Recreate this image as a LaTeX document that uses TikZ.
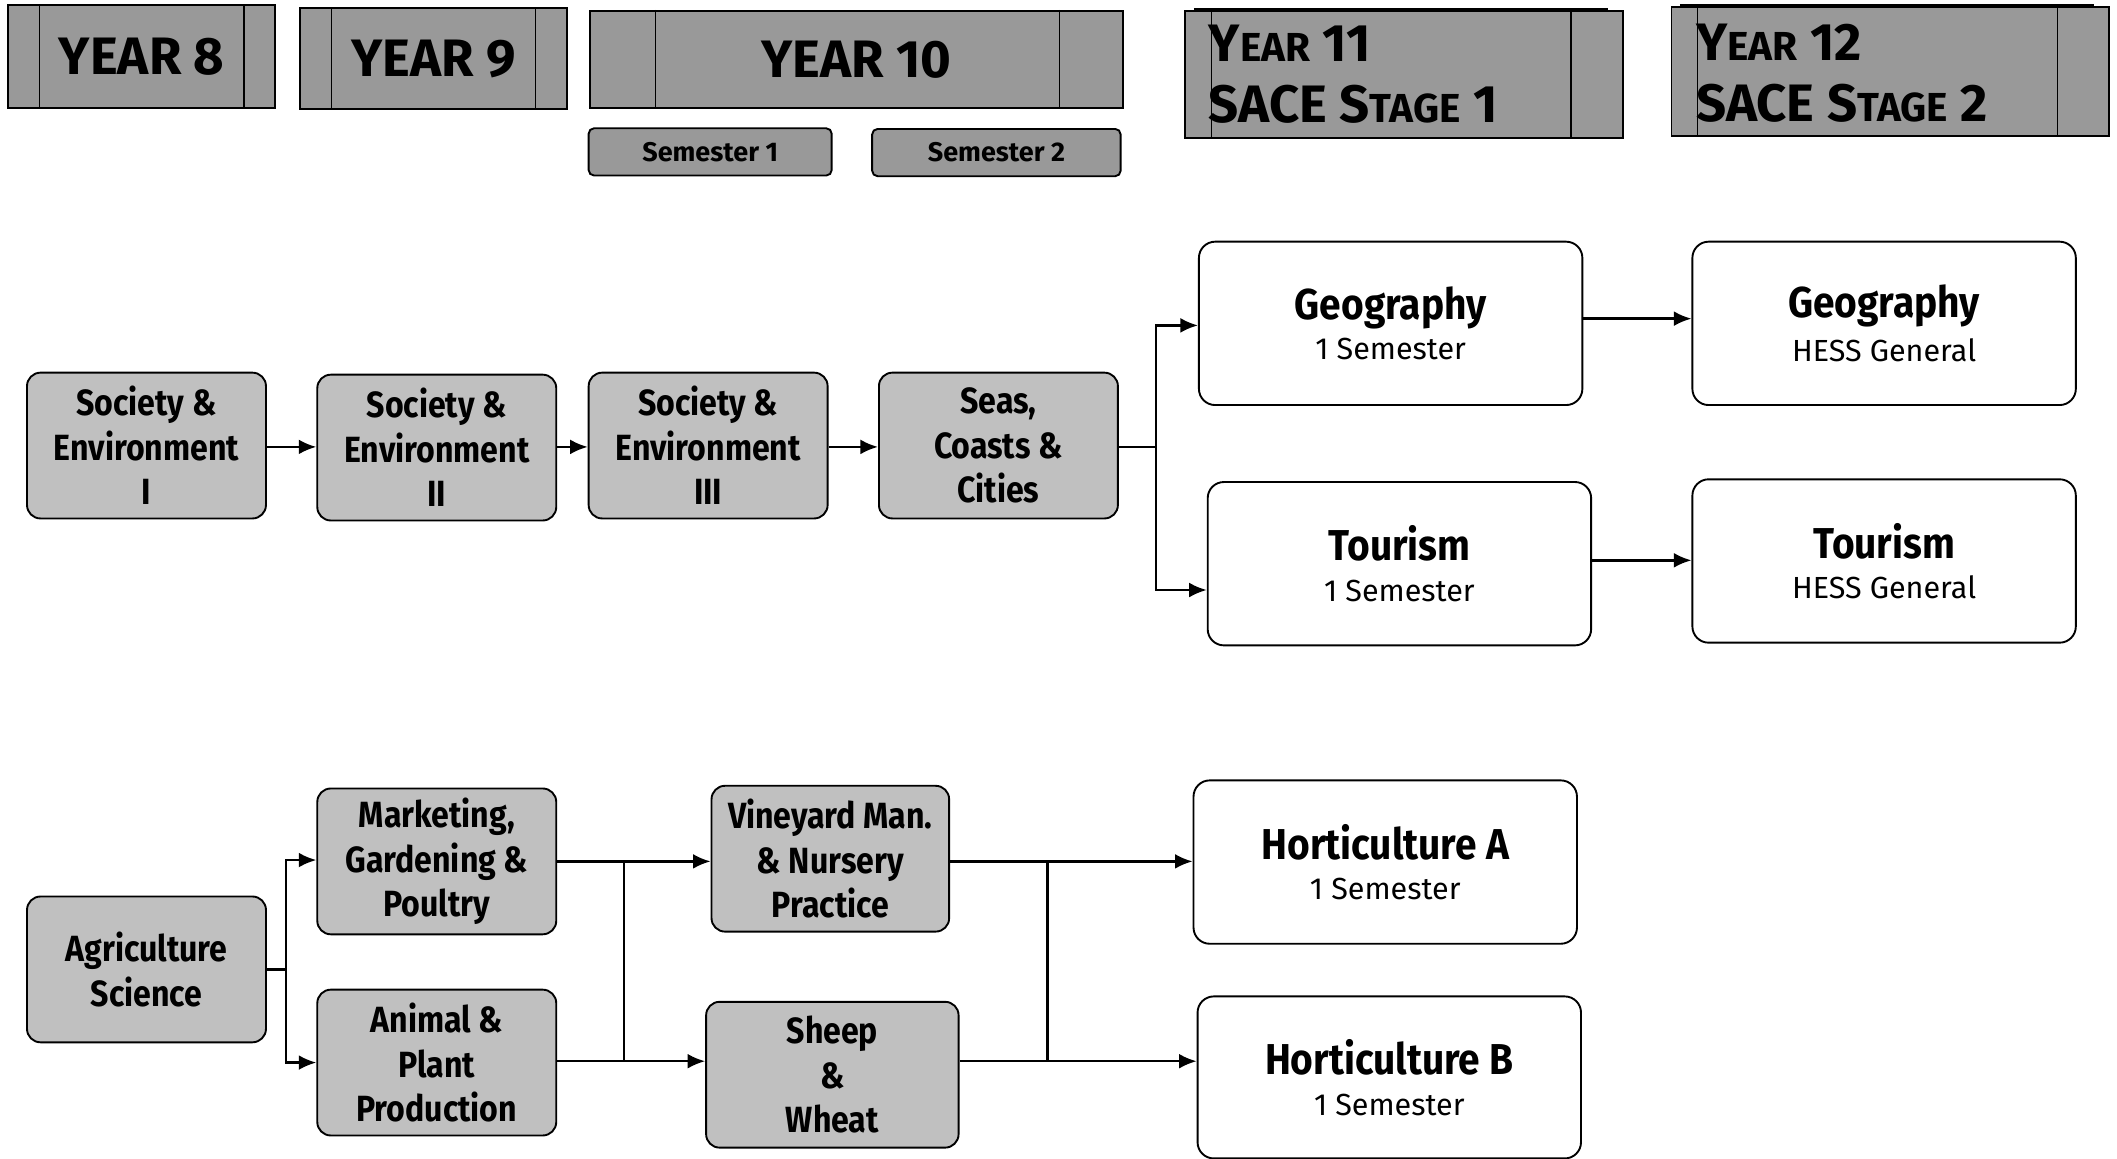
\documentclass[tikz,border=0pt]{standalone}
\usepackage{fontspec}
\setmainfont{Fira Sans}
\newfontfamily\narrowfont{Fira Sans}[FakeStretch=0.88]
\newfontfamily\titlefont{Fira Sans}[FakeStretch=0.9]
\usetikzlibrary{arrows.meta}

\definecolor{hdrgray}{RGB}{153,153,153}
\definecolor{boxgray}{RGB}{192,192,192}

\newcommand{\ttlfont}{\titlefont\bfseries\fontsize{16}{19}\selectfont}
\newcommand{\subfont}{\fontsize{11.3}{14}\selectfont}
\newcommand{\capsmall}{\fontsize{15}{22.5}\selectfont}

\tikzset{
  hdr/.style={draw, fill=hdrgray, line width=0.7pt, inner sep=0pt,
    font=\bfseries\fontsize{19.5}{22}\selectfont},
  hdrtext/.style={anchor=west, align=left, inner sep=0pt,
    font=\bfseries\fontsize{19.5}{22.5}\selectfont},
  semb/.style={draw, fill=hdrgray, rounded corners=2pt, line width=0.7pt,
    minimum height=17.5pt, inner sep=0pt, font=\bfseries\fontsize{10}{12}\selectfont},
  gbox/.style={draw, fill=boxgray, rounded corners=5pt, line width=0.7pt,
    minimum width=88.5pt, minimum height=54pt, align=center, inner sep=0pt,
    font=\narrowfont\bfseries\fontsize{13.5}{16.5}\selectfont},
  wbox/.style={draw, fill=white, rounded corners=6pt, line width=0.7pt,
    minimum width=142pt, minimum height=60.5pt, align=center, inner sep=0pt},
  arr/.style={line width=0.9pt, -{Latex[length=6.5pt,width=5.5pt]}},
  ln/.style={line width=0.9pt},
  divider/.style={line width=0.5pt},
  topbar/.style={line width=1.5pt},
}

\begin{document}
\begin{tikzpicture}[x=0.5pt, y=-0.5pt]
\useasboundingbox (0,0) rectangle (1568,858);

% ---- year headers ----
\node[hdr, minimum width=99pt, minimum height=38pt] (y8) at (105,42) {YEAR 8};
\node[hdr, minimum width=99pt, minimum height=37.5pt] (y9) at (321,43.5) {YEAR 9};
\node[hdr, minimum width=197.5pt, minimum height=36pt] (y10) at (634.5,44) {YEAR 10};
\foreach \b/\l/\r in {y8/12pt/12pt, y9/12pt/12pt, y10/24.5pt/24pt}{
  \draw[divider] ([xshift=\l]\b.north west) -- ([xshift=\l]\b.south west);
  \draw[divider] ([xshift=-\r]\b.north east) -- ([xshift=-\r]\b.south east);
}
\node[semb, minimum width=90pt] (sem1) at (526,112.5) {Semester 1};
\node[semb, minimum width=92pt] (sem2) at (738,113) {Semester 2};

\node[hdr, minimum width=162pt, minimum height=47pt] (y11) at (1040,55) {};
\node[hdr, minimum width=162pt, minimum height=48pt] (y12) at (1400,53) {};
\foreach \b in {y11, y12}{
  \draw[divider] ([xshift=10pt]\b.north west) -- ([xshift=10pt]\b.south west);
  \draw[divider] ([xshift=-19.5pt]\b.north east) -- ([xshift=-19.5pt]\b.south east);
  \draw[topbar] ([xshift=3.5pt]\b.north west) -- ([xshift=-6pt]\b.north east);
}
\node[hdrtext] (y11t) at (895,55)
  {Y{\capsmall EAR} 11\\SACE S{\capsmall TAGE} 1};
\node[hdrtext] (y12t) at (1256,54)
  {Y{\capsmall EAR} 12\\SACE S{\capsmall TAGE} 2};

% ---- society and environment stream ----
\node[gbox] (se1) at (108.5,330) {Society \&\\Environment\\I};
\node[gbox] (se2) at (323.5,331.5) {Society \&\\Environment\\II};
\node[gbox] (se3) at (524.5,330) {Society \&\\Environment\\III};
\node[gbox] (seas) at (739.5,330) {Seas,\\Coasts \&\\Cities};

\node[wbox] (geo) at (1030,239.5) {{\ttlfont Geography}\\[3pt]{\subfont 1 Semester}};
\node[wbox] (tour) at (1036.5,417.5) {{\ttlfont Tourism}\\[3pt]{\subfont 1 Semester}};
\node[wbox] (geoH) at (1395.5,239.5) {{\ttlfont Geography}\\[3pt]{\subfont HESS General}};
\node[wbox] (tourH) at (1395.5,415.5) {{\ttlfont Tourism}\\[3pt]{\subfont HESS General}};

\draw[arr] (se1.east |- 0,331) -- (se2.west |- 0,331);
\draw[arr] (se2.east |- 0,331) -- (se3.west |- 0,331);
\draw[arr] (se3.east |- 0,331) -- (seas.west |- 0,331);
\coordinate (sj) at (856,331);
\draw[ln] (seas.east |- sj) -- (sj);
\draw[arr] (sj) -- (856,241) -- (geo.west |- 0,241);
\draw[arr] (sj) -- (856,437) -- (tour.west |- 0,437);
\draw[arr] (geo.east |- 0,236) -- (geoH.west |- 0,236);
\draw[arr] (tour.east |- 0,415) -- (tourH.west |- 0,415);

% ---- agriculture stream ----
\node[gbox] (agri) at (108.5,718) {Agriculture\\Science};
\node[gbox] (mkt) at (323.5,638) {Marketing,\\Gardening \&\\Poultry};
\node[gbox] (anim) at (323.5,787) {Animal \&\\Plant\\Production};
\node[gbox, minimum width=88pt] (vine) at (615,636) {Vineyard Man.\\\& Nursery\\Practice};
\node[gbox, minimum width=93.5pt] (sheep) at (616.5,796) {Sheep\\\&\\Wheat};
\node[wbox] (hortA) at (1026,638.5) {{\ttlfont Horticulture A}\\[3pt]{\subfont 1 Semester}};
\node[wbox, minimum height=60pt] (hortB) at (1029,798) {{\ttlfont Horticulture B}\\[3pt]{\subfont 1 Semester}};

\coordinate (aj) at (212,718);
\draw[ln] (agri.east |- aj) -- (aj);
\draw[arr] (aj) -- (212,637) -- (mkt.west |- 0,637);
\draw[arr] (aj) -- (212,787) -- (anim.west |- 0,787);

\coordinate (mj1) at (462,638);
\coordinate (mj2) at (462,786);
\draw[arr] (mkt.east |- mj1) -- (vine.west |- mj1);
\draw[arr] (anim.east |- mj2) -- (sheep.west |- mj2);
\draw[ln] (mj1) -- (mj2);

\coordinate (hj1) at (776,638);
\coordinate (hj2) at (776,786);
\draw[arr] (vine.east |- hj1) -- (hortA.west |- hj1);
\draw[arr] (sheep.east |- hj2) -- (hortB.west |- hj2);
\draw[ln] (hj1) -- (hj2);
\end{tikzpicture}
\end{document}
